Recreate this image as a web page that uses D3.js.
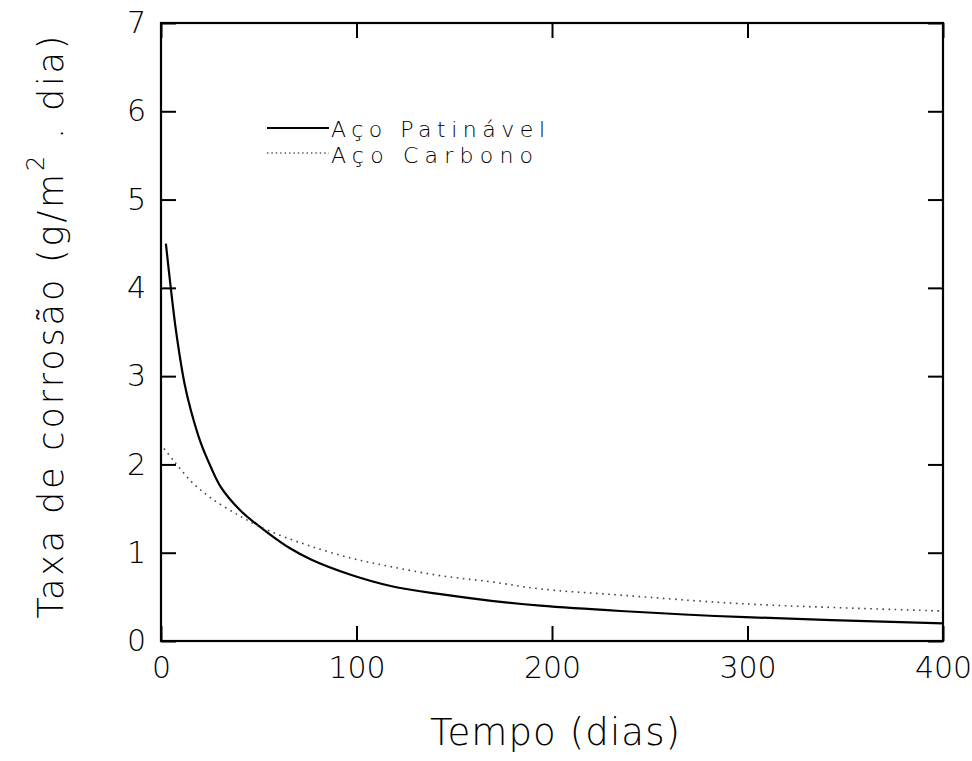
<!DOCTYPE html>
<html>
<head>
<meta charset="utf-8">
<script src="https://cdn.jsdelivr.net/npm/d3@7"></script>
<style>
  html, body { margin: 0; padding: 0; background: #fff; }
  svg { display: block; }
  text { font-family: "DejaVu Sans", "Liberation Sans", sans-serif; font-weight: 200; fill: #000; }
</style>
</head>
<body>
<svg id="chart" width="972" height="761"></svg>
<script>
// Corrosion rate over exposure time for two steels
const patinavelDays  = [2.5, 5, 7.7, 12, 15.3, 20.4, 25.5, 30.7, 41, 55, 66, 77, 97, 118, 143, 169, 194, 235, 299, 400];
const patinavelRate  = [4.50, 4.00, 3.51, 2.92, 2.61, 2.24, 1.97, 1.74, 1.47, 1.22, 1.05, 0.92, 0.75, 0.62, 0.53, 0.455, 0.40, 0.34, 0.27, 0.20];
const carbonoDays    = [1.5, 6.6, 15.3, 25.5, 40, 51, 63, 77, 97, 118, 143, 169, 194, 235, 299, 400];
const carbonoRate    = [2.18, 2.04, 1.81, 1.62, 1.42, 1.29, 1.18, 1.07, 0.94, 0.84, 0.74, 0.67, 0.59, 0.52, 0.42, 0.34];
const xTicks = [0, 100, 200, 300, 400];
const yTicks = [0, 1, 2, 3, 4, 5, 6, 7];
const seriesNames = ["Aço Patinável", "Aço Carbono"];

const svg = d3.select("#chart");
const plot = { left: 161, right: 943, top: 23, bottom: 641 };

const x = d3.scaleLinear().domain([0, 400]).range([plot.left, plot.right]);
const y = d3.scaleLinear().domain([0, 7]).range([plot.bottom, plot.top]);

const tickLen = 15;
const fmt = d3.format("d");

// Inward ticks on all four sides, labels on bottom and left only
svg.append("g").attr("transform", `translate(0,${plot.bottom})`)
  .call(d3.axisBottom(x).tickValues(xTicks).tickFormat(fmt).tickSizeInner(-tickLen).tickSizeOuter(0).tickPadding(25))
  .call(g => g.select(".domain").remove())
  .call(g => g.selectAll("line").attr("stroke", "#000").attr("stroke-width", 2))
  .call(g => g.selectAll("text").attr("font-size", 30).attr("font-family", null).attr("dy", "0.4em"));

svg.append("g").attr("transform", `translate(0,${plot.top})`)
  .call(d3.axisTop(x).tickValues(xTicks).tickSizeInner(-tickLen).tickSizeOuter(0).tickFormat(""))
  .call(g => g.select(".domain").remove())
  .call(g => g.selectAll("line").attr("stroke", "#000").attr("stroke-width", 2));

svg.append("g").attr("transform", `translate(${plot.left},0)`)
  .call(d3.axisLeft(y).tickValues(yTicks).tickFormat(fmt).tickSizeInner(-tickLen).tickSizeOuter(0).tickPadding(15))
  .call(g => g.select(".domain").remove())
  .call(g => g.selectAll("line").attr("stroke", "#000").attr("stroke-width", 2))
  .call(g => g.selectAll("text").attr("font-size", 30).attr("font-family", null));

svg.append("g").attr("transform", `translate(${plot.right},0)`)
  .call(d3.axisRight(y).tickValues(yTicks).tickSizeInner(-tickLen).tickSizeOuter(0).tickFormat(""))
  .call(g => g.select(".domain").remove())
  .call(g => g.selectAll("line").attr("stroke", "#000").attr("stroke-width", 2));

// Frame
svg.append("rect")
  .attr("x", plot.left).attr("y", plot.top)
  .attr("width", plot.right - plot.left).attr("height", plot.bottom - plot.top)
  .attr("fill", "none").attr("stroke", "#000").attr("stroke-width", 2.2);

const line = d3.line().x(d => x(d[0])).y(d => y(d[1])).curve(d3.curveCatmullRom.alpha(0.5));

svg.append("path")
  .datum(d3.zip(patinavelDays, patinavelRate))
  .attr("d", line)
  .attr("fill", "none").attr("stroke", "#000").attr("stroke-width", 2.2);

svg.append("path")
  .datum(d3.zip(carbonoDays, carbonoRate))
  .attr("d", line)
  .attr("fill", "none").attr("stroke", "#444").attr("stroke-width", 1.6)
  .attr("stroke-dasharray", "1.6,4.5");

// Legend
const legend = svg.append("g");
legend.append("line").attr("x1", 267).attr("x2", 329).attr("y1", 128).attr("y2", 128)
  .attr("stroke", "#000").attr("stroke-width", 2);
legend.append("line").attr("x1", 267).attr("x2", 329).attr("y1", 153).attr("y2", 153)
  .attr("stroke", "#555").attr("stroke-width", 1.4).attr("stroke-dasharray", "1.4,3");
legend.append("text").attr("x", 331).attr("y", 137).attr("font-size", 22)
  .attr("textLength", 214).attr("lengthAdjust", "spacing").text(seriesNames[0]);
legend.append("text").attr("x", 331).attr("y", 163).attr("font-size", 22)
  .attr("textLength", 202).attr("lengthAdjust", "spacing").text(seriesNames[1]);

// Axis titles
svg.append("text")
  .attr("x", 555).attr("y", 745)
  .attr("text-anchor", "middle").attr("font-size", 37)
  .attr("textLength", 250).attr("lengthAdjust", "spacing")
  .text("Tempo (dias)");

const yTitle = svg.append("text")
  .attr("transform", "translate(63,327) rotate(-90)")
  .attr("text-anchor", "middle").attr("font-size", 35)
  .attr("textLength", 583).attr("lengthAdjust", "spacing");
yTitle.append("tspan").text("Taxa de corrosão (g/m");
yTitle.append("tspan").attr("font-size", 24).attr("dy", -19).text("2");
yTitle.append("tspan").attr("dy", 19).text(" . dia)");
</script>
</body>
</html>
